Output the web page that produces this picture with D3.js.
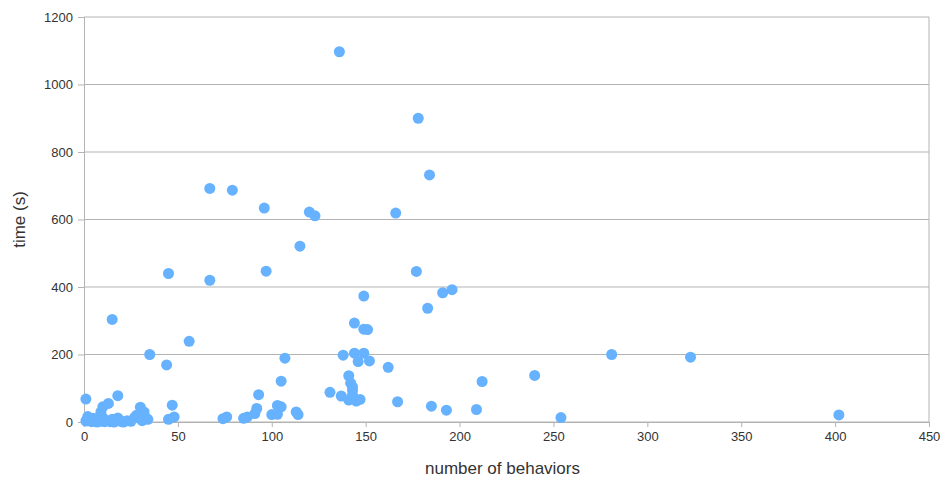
<!DOCTYPE html>
<html lang="en">
<head>
    <meta charset="UTF-8">
    <title>Behaviors vs time</title>
    <script src="https://d3js.org/d3.v7.min.js"></script>
    <style>
        body { margin: 0; background: #fff; }
        text { font-family: "Liberation Sans", Arial, sans-serif; }
    </style>
</head>
<body>
    <div id="chart"></div>
    <script>
        // number of behaviors (x) and time in seconds (y)
        const behaviors = [
            136, 178, 184, 67, 79, 96, 120, 123, 166, 115,
            45, 97, 177, 67, 196, 191, 149, 183, 15, 144,
            149, 151, 56, 35, 281, 323, 107, 138, 144, 149,
            146, 152, 162, 44, 105, 212, 240, 141, 142, 143,
            143, 143, 131, 137, 141, 145, 147, 167, 185, 193,
            209, 254, 402, 93, 113, 114, 103, 105, 100, 103,
            92, 91, 87, 85, 74, 76, 1, 18, 47, 30,
            32, 13, 10, 9, 48, 45,
            1, 2, 3, 4, 5, 6, 7, 8, 9, 10,
            11, 12, 14, 15, 16, 17, 18, 19, 20, 21,
            23, 25, 27, 28, 30, 31, 33, 34
        ];
        const times = [
            1097, 900, 732, 692, 687, 634, 622, 611, 619, 521,
            440, 447, 446, 420, 392, 383, 373, 337, 304, 293,
            275, 274, 239, 200, 200, 192, 189, 198, 204, 204,
            179, 181, 162, 169, 121, 120, 138, 137, 115, 104,
            94, 80, 88, 77, 65, 62, 67, 60, 47, 35,
            37, 13, 21, 81, 30, 22, 49, 45, 22, 23,
            40, 25, 15, 11, 10, 15, 68, 78, 50, 44,
            30, 55, 45, 30, 15, 8,
            3, 16, 6, 1, 11, 3, 0, 7, 2, 13,
            1, 4, 1, 8, 0, 3, 12, 5, 1, 0,
            4, 2, 14, 20, 10, 4, 12, 8
        ];
        const xTicks = [0, 50, 100, 150, 200, 250, 300, 350, 400, 450];
        const yTicks = [0, 200, 400, 600, 800, 1000, 1200];
        const xLabel = "number of behaviors";
        const yLabel = "time (s)";

        const W = 941, H = 480;
        const margin = { top: 17, right: 12, bottom: 58, left: 84 };
        const width = W - margin.left - margin.right;
        const height = H - margin.top - margin.bottom;

        const svg = d3.select("#chart")
            .append("svg")
            .attr("width", W)
            .attr("height", H);

        const g = svg.append("g")
            .attr("transform", `translate(${margin.left},${margin.top})`);

        const x = d3.scaleLinear().domain([0, 450]).range([0, width]);
        const y = d3.scaleLinear().domain([0, 1200]).range([height, 0]);

        const lineColor = "#b3b3b3";

        // horizontal grid lines
        g.append("g")
            .selectAll("line")
            .data(yTicks)
            .join("line")
            .attr("x1", 0)
            .attr("x2", width)
            .attr("y1", d => y(d))
            .attr("y2", d => y(d))
            .attr("stroke", lineColor)
            .attr("stroke-width", 1);

        // right frame
        g.append("line")
            .attr("x1", width).attr("x2", width)
            .attr("y1", 0).attr("y2", height)
            .attr("stroke", lineColor);

        const xAxis = g.append("g")
            .attr("transform", `translate(0,${height})`)
            .call(d3.axisBottom(x).tickValues(xTicks).tickFormat(d3.format("d"))
                .tickSize(5).tickPadding(5));

        const yAxis = g.append("g")
            .call(d3.axisLeft(y).tickValues(yTicks).tickFormat(d3.format("d"))
                .tickSize(6).tickPadding(5));

        [xAxis, yAxis].forEach(a => {
            a.select(".domain").attr("stroke", lineColor);
            a.selectAll(".tick line").attr("stroke", lineColor);
            a.selectAll(".tick text")
                .attr("fill", "#333")
                .style("font-size", "13px")
                .style("font-family", "'Liberation Sans', Arial, sans-serif");
        });

        const points = behaviors.map((b, i) => ({ b, t: times[i] }));

        g.append("g")
            .selectAll("circle")
            .data(points)
            .join("circle")
            .attr("cx", d => x(d.b))
            .attr("cy", d => y(d.t))
            .attr("r", 5.5)
            .attr("fill", "#66b2ff");

        svg.append("text")
            .attr("x", margin.left + width / 2 - 4)
            .attr("y", 474)
            .attr("text-anchor", "middle")
            .attr("fill", "#333")
            .style("font-size", "17px")
            .text(xLabel);

        svg.append("text")
            .attr("transform", `translate(25,${margin.top + height / 2}) rotate(-90)`)
            .attr("text-anchor", "middle")
            .attr("fill", "#333")
            .style("font-size", "17px")
            .text(yLabel);
    </script>
</body>
</html>
